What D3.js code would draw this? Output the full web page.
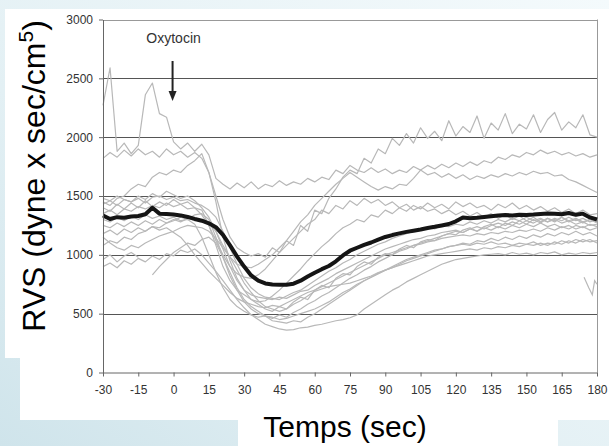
<!DOCTYPE html>
<meta charset="utf-8">
<head>
<style>
    body { margin: 0; background: #fff; }
    text { font-family: "Liberation Sans", Arial, sans-serif; }
</style>
</head>
<body>
<div id="chart"></div>
<script src="https://d3js.org/d3.v7.min.js"></script>
<script>
    // time samples (sec), shared by every trace
    let time = [-30,-27,-24,-21,-18,-15,-12,-9,-6,-3,0,3,6,9,12,15,18,21,24,27,30,33,36,39,42,45,48,51,54,57,60,63,66,69,72,75,78,81,84,87,90,93,96,99,102,105,108,111,114,117,120,123,126,129,132,135,138,141,144,147,150,153,156,159,162,165,168,171,174,177,180];

    // individual patients (grey)
    let p1 = [2270,2590,1880,1950,1860,1930,2360,2460,2200,2170,1960,1900,1950,1880,1940,1850,1650,1600,1560,1610,1570,1620,1560,1600,1580,1630,1590,1620,1600,1650,1620,1660,1640,1720,1690,1760,1720,1700,1740,1700,1730,1690,1720,1700,1750,1720,1760,1730,1770,1740,1780,1750,1790,1760,1800,1780,1830,1810,1850,1830,1870,1850,1890,1860,1880,1850,1870,1840,1860,1830,1850];
    let p2 = [1820,1870,1830,1890,1840,1900,1850,1880,1830,1900,1850,1880,1830,1870,1820,1700,1500,1300,1150,1060,1020,990,1010,980,1060,1020,1120,1080,1250,1200,1380,1350,1480,1560,1660,1720,1690,1820,1780,1900,1860,1990,1930,2030,1950,2080,1990,2050,1970,2140,2010,2090,2040,2180,1990,2120,2060,2200,2030,2110,2070,2190,2040,2150,2210,2060,2130,2080,2190,2020,2000];
    let p3 = [1450,1420,1480,1500,1560,1600,1580,1660,1700,1680,1720,1700,1760,1800,1860,1700,1450,1150,950,800,700,620,580,540,520,560,540,600,640,620,700,740,720,800,840,830,900,940,920,980,1010,1000,1050,1080,1060,1110,1130,1120,1160,1180,1170,1210,1230,1200,1240,1260,1230,1270,1250,1290,1260,1300,1270,1310,1280,1320,1290,1310,1280,1300,1270];
    let p4 = [1400,1370,1430,1390,1440,1400,1460,1410,1450,1420,1470,1430,1450,1400,1380,1250,1080,900,780,700,660,620,600,610,650,700,760,820,880,950,1010,1070,1120,1180,1230,1260,1300,1280,1340,1320,1380,1350,1400,1370,1420,1390,1440,1400,1430,1390,1450,1410,1440,1400,1420,1380,1430,1400,1440,1390,1420,1380,1410,1370,1400,1360,1390,1350,1380,1340,1350];
    let p5 = [1300,1280,1320,1290,1330,1300,1340,1310,1330,1300,1320,1290,1300,1260,1150,1000,850,720,620,560,520,490,470,480,460,490,470,510,540,580,610,650,680,720,760,800,830,870,900,940,970,1000,1030,1050,1080,1100,1120,1140,1160,1180,1200,1190,1220,1240,1220,1250,1270,1250,1280,1260,1290,1270,1300,1280,1310,1290,1320,1290,1310,1280,1300];
    let p6 = [1250,1230,1270,1240,1280,1250,1290,1260,1300,1270,1300,1280,1310,1290,1300,1270,1200,1050,900,780,700,660,640,630,620,640,630,660,690,700,740,770,800,840,870,900,930,960,990,1020,1050,1070,1090,1110,1130,1140,1160,1170,1190,1200,1210,1190,1220,1200,1230,1210,1240,1220,1250,1230,1260,1240,1270,1240,1260,1230,1250,1220,1240,1210,1230];
    let p7 = [1180,1210,1170,1220,1190,1230,1200,1240,1210,1230,1190,1150,1080,1000,930,860,800,740,680,630,600,580,560,550,570,560,590,620,650,680,700,730,760,790,820,850,880,910,940,970,1000,1020,1040,1060,1080,1090,1110,1120,1140,1150,1160,1170,1160,1180,1170,1190,1180,1200,1190,1210,1200,1220,1200,1230,1210,1240,1220,1250,1230,1260,1240];
    let p8 = [1080,1120,1100,1150,1130,1180,1200,1240,1230,1270,1290,1320,1300,1340,1350,1300,1150,980,820,700,600,540,500,480,470,450,460,480,500,520,540,570,600,640,680,710,750,780,810,840,870,890,920,950,970,990,1010,1030,1050,1070,1080,1100,1090,1120,1110,1140,1120,1150,1130,1160,1140,1170,1150,1180,1160,1190,1170,1200,1170,1190,1160];
    let p9 = [960,1000,940,990,1020,980,null,830,900,960,1020,1060,1100,1080,1130,1150,1100,980,850,720,620,560,520,480,440,430,420,440,430,470,500,540,580,620,660,700,740,780,810,840,870,900,930,960,980,1000,1020,1040,1050,1070,1080,1090,1080,1100,1090,1110,1090,1100,1080,1100,1090,1110,1080,1100,1090,1120,1100,1130,1110,1130,1100];
    let p10 = [900,930,890,950,920,970,940,990,960,1010,990,1040,1020,1050,1000,930,860,780,700,620,550,490,450,410,390,370,360,365,380,385,400,410,425,440,450,465,490,540,580,620,660,700,730,770,800,830,860,890,920,940,960,970,980,990,1000,1005,1010,1000,1020,1005,1015,1000,1020,1010,1025,1000,1015,1005,1020,1010,1020];
    let p11 = [1350,1380,1340,1390,1370,1410,1390,1420,1400,1440,1410,1430,1390,1400,1340,1250,1120,1000,900,840,810,800,830,880,950,1020,1080,1140,1200,1260,1300,1380,1350,1420,1390,1460,1420,1480,1440,1470,1420,1450,1400,1430,1380,1410,1370,1390,1350,1380,1340,1370,1330,1360,1320,1350,1310,1340,1300,1330,1290,1320,1280,1310,1290,1320,1280,1300,1270,1300,1280];
    let p12 = [1480,1460,1500,1470,1450,1480,1440,1490,1500,1470,1490,1460,1470,1440,1420,1380,1320,1200,1060,920,800,720,670,640,630,620,650,680,700,740,780,820,860,890,930,960,1000,1030,1060,1090,1110,1140,1160,1180,1200,1210,1230,1220,1250,1240,1260,1250,1280,1260,1290,1270,1300,1280,1310,1290,1320,1290,1310,1280,1300,1270,1290,1260,1280,1250,1260];
    let p13 = [1150,1100,1060,1040,1080,1060,1100,1130,1160,1180,1200,1230,1250,1240,1230,1200,1140,1060,980,870,760,680,610,560,540,520,540,580,610,650,690,710,730,740,750,760,780,800,820,850,870,890,910,930,950,970,990,1000,1010,1020,1030,1040,1050,1040,1060,1050,1070,1060,1080,1070,1090,1080,1100,1080,1110,1090,1120,1100,1130,1110,1120];
    let p14 = [1430,1460,1420,1470,1450,1500,1470,1520,1490,1540,1510,1480,1500,1460,1400,1320,1200,1080,980,920,900,890,920,960,1000,1060,1120,1200,1280,1340,1420,1480,1540,1600,1650,1700,1660,1620,1580,1550,1580,1560,1600,1590,1650,1720,1680,1700,1660,1690,1650,1680,1640,1670,1650,1680,1660,1690,1670,1700,1680,1710,1690,1700,1670,1680,1640,1620,1590,1560,1530];
    let patients = [p1, p2, p3, p4, p5, p6, p7, p8, p9, p10, p11, p12, p13, p14];

    // short piece of a trace at the very end
    let fragTime = [174.5, 176.5, 178, 179, 180];
    let fragValues = [810, 720, 660, 780, 750];

    // mean (black)
    let mean = [1335,1305,1320,1315,1325,1330,1345,1400,1350,1348,1342,1335,1322,1305,1290,1268,1235,1170,1080,985,900,825,780,757,748,745,746,755,780,815,848,878,905,945,995,1035,1060,1085,1105,1130,1152,1168,1182,1195,1205,1215,1228,1238,1250,1262,1285,1318,1310,1315,1322,1328,1335,1338,1335,1340,1338,1342,1348,1352,1350,1345,1355,1340,1350,1318,1300];

    let xTicks = [-30,-15,0,15,30,45,60,75,90,105,120,135,150,165,180];
    let yTicks = [0,500,1000,1500,2000,2500,3000];

    let svgWidth = 609, svgHeight = 446;
    let plot = {left: 103, right: 597, top: 19.5, bottom: 372.5};

    let svg = d3.select('#chart').append('svg')
        .attr('width', svgWidth)
        .attr('height', svgHeight);

    // slide background
    let grad = svg.append('defs').append('linearGradient')
        .attr('id', 'bg').attr('x1', 1).attr('y1', 0).attr('x2', 0).attr('y2', 1);
    grad.append('stop').attr('offset', 0).attr('stop-color', '#f4fafc');
    grad.append('stop').attr('offset', 0.6).attr('stop-color', '#e3f0f4');
    grad.append('stop').attr('offset', 1).attr('stop-color', '#cfe4eb');
    svg.append('rect').attr('width', svgWidth).attr('height', svgHeight).attr('fill', 'url(#bg)');

    // white panels
    svg.append('rect').attr('x', 5).attr('y', 9).attr('width', 604).attr('height', 349).attr('fill', '#fff');
    svg.append('rect').attr('x', 20).attr('y', 9).attr('width', 589).attr('height', 411).attr('fill', '#fff');
    svg.append('rect').attr('x', 238).attr('y', 9).attr('width', 320).attr('height', 437).attr('fill', '#fff');

    let x = d3.scaleLinear().domain([-30, 180]).range([plot.left, plot.right]);
    let y = d3.scaleLinear().domain([0, 3000]).range([plot.bottom, plot.top]);

    // gridlines
    svg.append('g').selectAll('line')
        .data(yTicks.filter(d => d > 0))
        .enter().append('line')
        .attr('x1', plot.left).attr('x2', plot.right)
        .attr('y1', d => Math.round(y(d)) + 0.5).attr('y2', d => Math.round(y(d)) + 0.5)
        .attr('stroke', d => d == 3000 ? '#999' : '#555')
        .attr('stroke-width', 1);

    // right border
    svg.append('line')
        .attr('x1', plot.right + 0.5).attr('x2', plot.right + 0.5)
        .attr('y1', y(3000)).attr('y2', y(0))
        .attr('stroke', '#999');

    // patient traces
    let greyLine = d3.line()
        .defined(d => d !== null)
        .x((d, i) => x(time[i]))
        .y(d => y(d));

    svg.append('g').selectAll('path')
        .data(patients)
        .enter().append('path')
        .attr('d', d => greyLine(d))
        .attr('fill', 'none')
        .attr('stroke', '#b8b8b8')
        .attr('stroke-width', 1.2)
        .attr('stroke-linejoin', 'round');

    svg.append('path')
        .attr('d', d3.line().x((d, i) => x(fragTime[i])).y(d => y(d))(fragValues))
        .attr('fill', 'none')
        .attr('stroke', '#b8b8b8')
        .attr('stroke-width', 1.2);

    // mean trace
    svg.append('path')
        .attr('d', d3.line().x((d, i) => x(time[i])).y(d => y(d))(mean))
        .attr('fill', 'none')
        .attr('stroke', '#151515')
        .attr('stroke-width', 4)
        .attr('stroke-linejoin', 'round');

    // axes
    let xAxis = svg.append('g')
        .attr('transform', `translate(0, ${plot.bottom})`)
        .call(d3.axisBottom(x).tickValues(xTicks).tickFormat(d => String(d))
            .tickSize(4).tickPadding(9).tickSizeOuter(0));
    let yAxis = svg.append('g')
        .attr('transform', `translate(${plot.left}, 0)`)
        .call(d3.axisLeft(y).tickValues(yTicks).tickFormat(d => String(d))
            .tickSize(4).tickPadding(6).tickSizeOuter(0));

    [xAxis, yAxis].forEach(a => {
        a.select('.domain').attr('stroke', '#666');
        a.selectAll('.tick line').attr('stroke', '#666');
        a.selectAll('.tick text')
            .attr('fill', '#333')
            .style('font-size', '12px')
            .style('font-family', '"Liberation Sans", Arial, sans-serif');
    });

    // oxytocin marker
    svg.append('text')
        .attr('x', x(0)).attr('y', 43)
        .attr('text-anchor', 'middle')
        .attr('fill', '#333')
        .style('font-size', '14px')
        .text('Oxytocin');

    svg.append('line')
        .attr('x1', x(0) - 1).attr('x2', x(0) - 1)
        .attr('y1', 61).attr('y2', 93)
        .attr('stroke', '#222').attr('stroke-width', 2);
    svg.append('path')
        .attr('d', `M${x(0) - 5},${91} L${x(0) + 3},${91} L${x(0) - 1},${101} Z`)
        .attr('fill', '#222');

    // axis titles
    svg.append('text')
        .attr('x', 345).attr('y', 437)
        .attr('text-anchor', 'middle')
        .attr('fill', '#000')
        .style('font-size', '30px')
        .text('Temps (sec)');

    let yTitle = svg.append('text')
        .attr('transform', 'translate(45, 176) rotate(-90)')
        .attr('text-anchor', 'middle')
        .attr('fill', '#000')
        .style('font-size', '32px');
    yTitle.append('tspan').text('RVS (dyne x sec/cm');
    yTitle.append('tspan').attr('dy', -12).style('font-size', '21px').text('5');
    yTitle.append('tspan').attr('dy', 12).text(')');
</script>
</body>
